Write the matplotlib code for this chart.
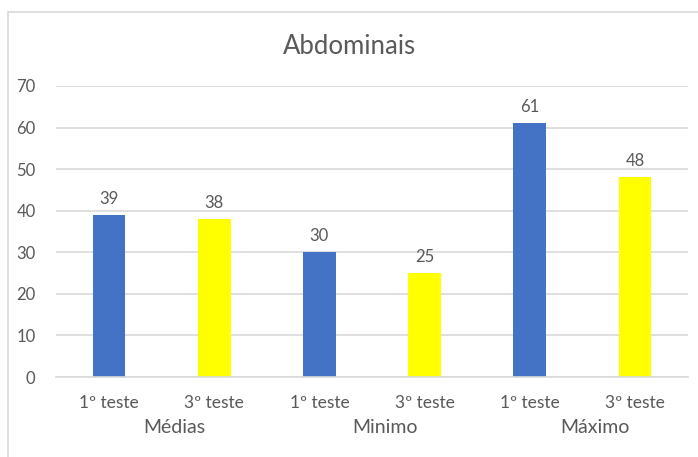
import numpy as np
import matplotlib.pyplot as plt
from matplotlib.patches import Rectangle

plt.rcParams['font.family'] = ['Lato', 'DejaVu Sans']

groups = ["Médias", "Minimo", "Máximo"]
tests = ["1º teste", "3º teste"]
values = [39, 38, 30, 25, 61, 48]
colors = ["#4472C4", "#FFFF00"]

text_color = "#595959"
grid_color = "#D9D9D9"

W, H = 698, 457
fig = plt.figure(figsize=(W / 100, H / 100), dpi=100)

# outer chart frame (runs off the right and bottom edge)
fig.patches.append(Rectangle((8 / W, -0.1), 1.2, 1 - 12 / H + 0.1,
                             transform=fig.transFigure, fill=False,
                             edgecolor=grid_color, linewidth=1.2))

ax = fig.add_axes([56.4 / W, 1 - 377 / H, (687.6 - 56.4) / W, (377 - 86) / H])

x = np.arange(len(values))
bar_colors = [colors[i % 2] for i in range(len(values))]
bars = ax.bar(x, values, width=0.31, color=bar_colors, zorder=3)

for b, v in zip(bars, values):
    ax.annotate(f"{v}", (b.get_x() + b.get_width() / 2, v),
                xytext=(0, 6), textcoords="offset points",
                ha="center", va="bottom", fontsize=12, color=text_color)

ax.set_xlim(-0.5, len(values) - 0.5)
ax.set_ylim(0, 70)
ax.set_yticks(np.arange(0, 71, 10))
ax.yaxis.grid(True, color=grid_color, linewidth=1.2, zorder=0)
ax.tick_params(axis="y", length=0, pad=15, labelsize=12, labelcolor=text_color)

ax.set_xticks(x)
ax.set_xticklabels([tests[i % 2] for i in range(len(values))])
ax.tick_params(axis="x", length=0, pad=13, labelsize=12.5, labelcolor=text_color)

for s in ["top", "right", "left"]:
    ax.spines[s].set_visible(False)
ax.spines["bottom"].set_color(grid_color)
ax.spines["bottom"].set_linewidth(1.2)
ax.spines["bottom"].set_zorder(4)

# group labels under each pair of bars
for i, g in enumerate(groups):
    ax.text(2 * i + 0.5 + 0.12, -0.175, g, transform=ax.get_xaxis_transform(),
            ha="center", va="center", fontsize=14, color=text_color)

fig.text(0.5, 1 - 46 / H, "Abdominais", ha="center", va="center",
         fontsize=18.5, color=text_color)

fig.savefig("out.png", dpi=100, facecolor="white")
